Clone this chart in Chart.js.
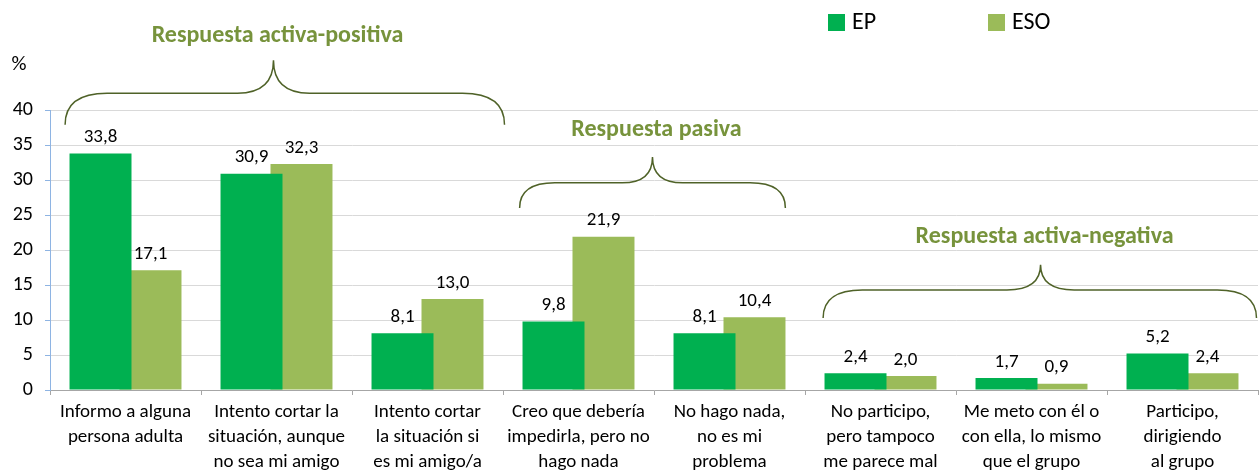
<!DOCTYPE html>
<html>
<head>
<meta charset="utf-8">
<script src="https://cdn.jsdelivr.net/npm/chart.js@4"></script>
<style>
  html, body { margin: 0; padding: 0; background: #fff; }
  #wrap { width: 1259px; height: 473px; position: relative; }
</style>
</head>
<body>
<div id="wrap"><canvas id="chart"></canvas></div>
<script>
const categories = [
  ['Informo a alguna', 'persona adulta'],
  ['Intento cortar la', 'situación, aunque', 'no sea mi amigo'],
  ['Intento cortar', 'la situación si', 'es mi amigo/a'],
  ['Creo que debería', 'impedirla, pero no', 'hago nada'],
  ['No hago nada,', 'no es mi', 'problema'],
  ['No participo,', 'pero tampoco', 'me parece mal'],
  ['Me meto con él o', 'con ella, lo mismo', 'que el grupo'],
  ['Participo,', 'dirigiendo', 'al grupo']
];
const seriesNames = ['EP', 'ESO'];
const epValues = [33.8, 30.9, 8.1, 9.8, 8.1, 2.4, 1.7, 5.2];
const esoValues = [17.1, 32.3, 13.0, 21.9, 10.4, 2.0, 0.9, 2.4];
const yTicks = [0, 5, 10, 15, 20, 25, 30, 35, 40];

// group braces: label, from/to/center in category index units, heights in value units
const groupNames = ['Respuesta activa-positiva', 'Respuesta pasiva', 'Respuesta activa-negativa'];
const braces = [
  { from: -0.4, to: 2.51, mid: 0.98, end: 37.9, bar: 42.4, tip: 47.1, text: 50.6 },
  { from: 2.61, to: 4.37, mid: 3.49, end: 26.0, bar: 29.6, tip: 33.3, text: 37.1 },
  { from: 4.62, to: 7.49, mid: 6.06, end: 10.3, bar: 14.3, tip: 17.9, text: 21.8 }
];

const FONT = 'Carlito, Lato, "Open Sans", sans-serif';
const fmt = v => v.toFixed(1).replace('.', ',');

const extras = {
  id: 'extras',
  afterDatasetsDraw(chart) {
    const ctx = chart.ctx;
    const x = chart.scales.x, y = chart.scales.y;
    ctx.save();
    // value labels
    ctx.fillStyle = '#000';
    ctx.font = '19px ' + FONT;
    ctx.textAlign = 'center';
    ctx.textBaseline = 'middle';
    chart.data.datasets.forEach((ds, i) => {
      chart.getDatasetMeta(i).data.forEach((bar, j) => {
        ctx.fillText(fmt(ds.data[j]), bar.x, bar.y - 16);
      });
    });
    // % label
    ctx.font = '21px ' + FONT;
    ctx.fillText('%', 19, 65);
    // legend
    const legX = [828, 988];
    ctx.font = '24px ' + FONT;
    ctx.textAlign = 'left';
    chart.data.datasets.forEach((ds, i) => {
      ctx.fillStyle = ds.backgroundColor;
      ctx.fillRect(legX[i], 14, 17, 17);
      ctx.fillStyle = '#000';
      ctx.fillText(ds.label, legX[i] + 24, 23);
    });
    // braces
    const px = v => x.getPixelForValue(0) + v * (x.getPixelForValue(1) - x.getPixelForValue(0));
    ctx.strokeStyle = '#4F6228';
    ctx.lineWidth = 1.5;
    braces.forEach((b, k) => {
      const x0 = px(b.from), x1 = px(b.to), xm = px(b.mid);
      const ye = y.getPixelForValue(b.end), yb = y.getPixelForValue(b.bar), yt = y.getPixelForValue(b.tip);
      const r = Math.min(ye - yb, 30);
      ctx.beginPath();
      ctx.moveTo(x0, ye);
      ctx.quadraticCurveTo(x0, yb, x0 + r * 1.4, yb);
      ctx.lineTo(xm - r * 1.2, yb);
      ctx.quadraticCurveTo(xm, yb, xm, yt);
      ctx.quadraticCurveTo(xm, yb, xm + r * 1.2, yb);
      ctx.lineTo(x1 - r * 1.4, yb);
      ctx.quadraticCurveTo(x1, yb, x1, ye);
      ctx.stroke();
      ctx.fillStyle = '#77933C';
      ctx.font = 'bold 24px ' + FONT;
      ctx.textAlign = 'center';
      ctx.textBaseline = 'middle';
      ctx.fillText(groupNames[k], xm + 4, y.getPixelForValue(b.text));
    });
    ctx.restore();
  }
};

new Chart(document.getElementById('chart'), {
  type: 'bar',
  data: {
    labels: categories,
    datasets: [
      { label: seriesNames[0], data: epValues, backgroundColor: '#00B050' },
      { label: seriesNames[1], data: esoValues, backgroundColor: '#9BBB59' }
    ]
  },
  plugins: [extras],
  options: {
    responsive: true,
    maintainAspectRatio: false,
    animation: false,
    categoryPercentage: 0.662,
    barPercentage: 1.24,
    layout: { padding: { top: 110, right: 1, left: 0, bottom: 0 } },
    plugins: { legend: { display: false }, tooltip: { enabled: false } },
    scales: {
      x: {
        grid: { display: true, drawOnChartArea: false, drawTicks: true, tickLength: 5, color: '#A6A6A6' },
        border: { color: '#A6A6A6' },
        ticks: { color: '#000', font: { family: FONT, size: 19, lineHeight: 1.31 }, padding: 5, maxRotation: 0, autoSkip: false },
        afterFit(s) { s.height = 83; }
      },
      y: {
        min: 0, max: 40,
        afterBuildTicks(s) { s.ticks = yTicks.map(v => ({ value: v })); },
        grid: { color: '#D9D9D9', tickLength: 5, tickColor: '#8EB4E3' },
        border: { color: '#8EB4E3' },
        ticks: { color: '#000', font: { family: FONT, size: 20 }, padding: 12 },
        afterFit(s) { s.width = 50; }
      }
    }
  }
});
</script>
</body>
</html>
